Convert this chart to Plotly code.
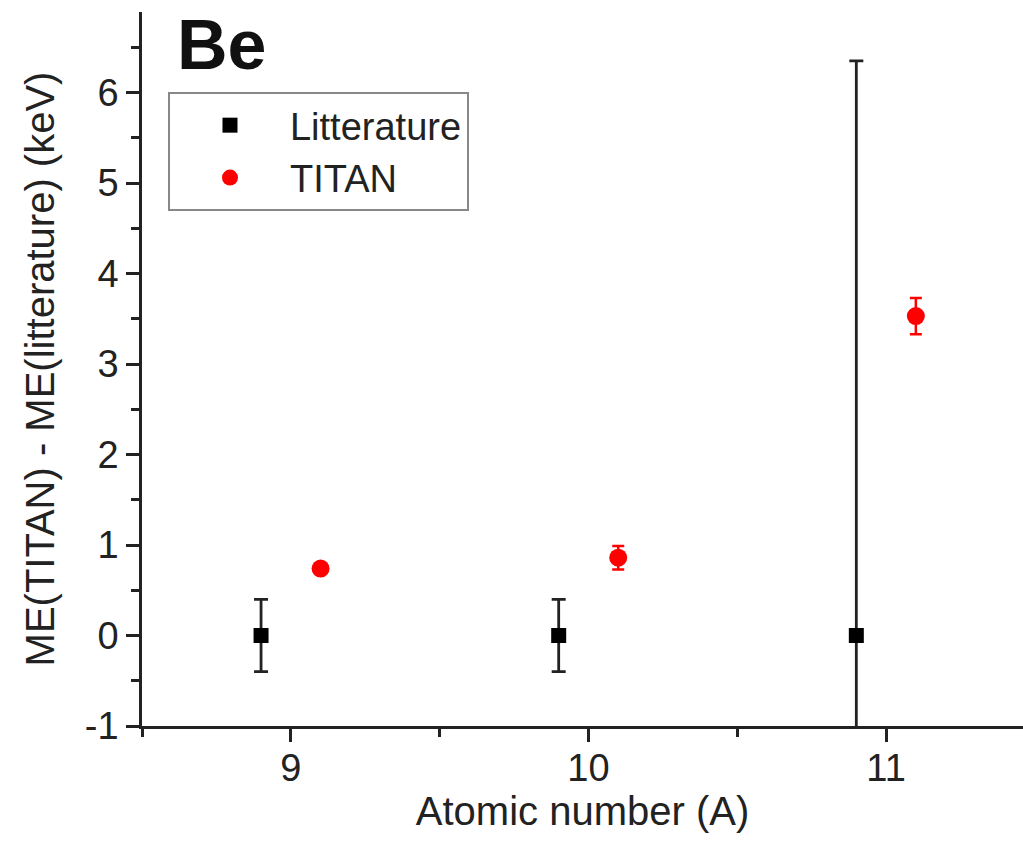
import plotly.graph_objects as go

# Data
lit_x = [8.9, 9.9, 10.9]
lit_y = [0.0, 0.0, 0.0]
lit_err = [0.4, 0.4, 6.35]

titan_x = [9.1, 10.1, 11.1]
titan_y = [0.74, 0.86, 3.53]
titan_err = [0.05, 0.13, 0.2]

x_ticks = [9, 10, 11]
y_ticks = [-1, 0, 1, 2, 3, 4, 5, 6]
y_ticktext = ["-1", "0", "1", "2", "3", "4", "5", "6"]

FONT = "Liberation Sans, Arial, sans-serif"

fig = go.Figure()
fig.add_trace(go.Scatter(
    x=lit_x, y=lit_y, mode="markers", name="Litterature",
    marker=dict(symbol="square", size=15, color="black"),
    error_y=dict(type="data", array=lit_err, visible=True, color="#222", thickness=2.8, width=7),
))
fig.add_trace(go.Scatter(
    x=titan_x, y=titan_y, mode="markers", name="TITAN",
    marker=dict(symbol="circle", size=18, color="#ff0000"),
    error_y=dict(type="data", array=titan_err, visible=True, color="#ff0000", thickness=2.5, width=6),
))

axis_common = dict(
    showline=True, linecolor="#222", linewidth=2.5,
    ticks="outside", ticklen=13, tickwidth=2.5, tickcolor="#222",
    showgrid=False, zeroline=False, mirror=False,
    tickfont=dict(family=FONT, size=38, color="#222"),
)

fig.update_xaxes(
    range=[8.5, 11.46], tickvals=x_ticks,
    minor=dict(dtick=0.5, ticks="outside", ticklen=8, tickwidth=2.5, tickcolor="#222", showgrid=False),
    title=dict(text="Atomic number (A)", font=dict(family=FONT, size=40, color="#222"), standoff=0),
    ticklabelstandoff=-6,
    **axis_common,
)
fig.update_yaxes(
    range=[-1, 6.89], tickvals=y_ticks, ticktext=y_ticktext,
    minor=dict(dtick=0.5, ticks="outside", ticklen=8, tickwidth=2.5, tickcolor="#222", showgrid=False),
    title=dict(text="ME(TITAN) - ME(litterature) (keV)", font=dict(family=FONT, size=40, color="#222"), standoff=18),
    ticklabelstandoff=0,
    **axis_common,
)

fig.add_annotation(
    text="<b>Be</b>", xref="paper", yref="paper", x=0.037, y=0.954,
    xanchor="left", yanchor="middle", showarrow=False,
    font=dict(family=FONT, size=70, color="#111"),
)

fig.update_layout(
    width=1023, height=841,
    margin=dict(l=142, r=0, t=12, b=115),
    paper_bgcolor="white", plot_bgcolor="white",
    showlegend=True,
    legend=dict(
        x=0.0295, y=0.888, xanchor="left", yanchor="top",
        bordercolor="#888", borderwidth=2, bgcolor="white",
        font=dict(family=FONT, size=38, color="#222"),
        itemwidth=110, tracegroupgap=0,
    ),
)

fig.write_html("out.html")
